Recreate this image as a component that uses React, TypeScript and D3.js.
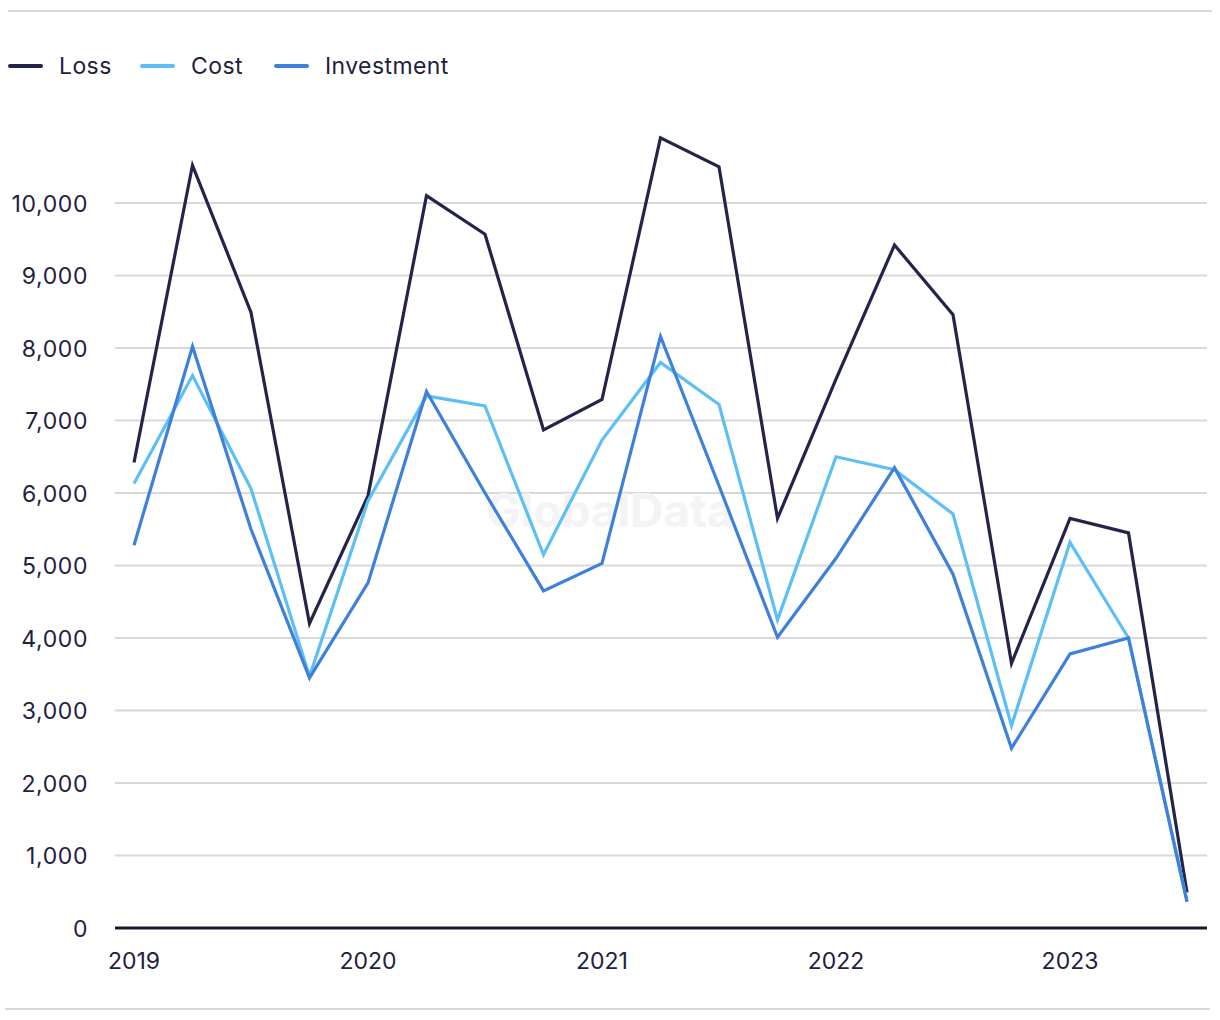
import React from "react";
import * as d3 from "d3";

const periods = [
  "2019Q1","2019Q2","2019Q3","2019Q4",
  "2020Q1","2020Q2","2020Q3","2020Q4",
  "2021Q1","2021Q2","2021Q3","2021Q4",
  "2022Q1","2022Q2","2022Q3","2022Q4",
  "2023Q1","2023Q2","2023Q3",
];
const loss = [6420, 10520, 8490, 4200, 5960, 10100, 9570, 6870, 7290, 10900, 10500, 5650, 7570, 9420, 8460, 3650, 5650, 5450, 490];
const cost = [6130, 7620, 6060, 3470, 5890, 7340, 7200, 5150, 6730, 7800, 7220, 4250, 6500, 6320, 5710, 2790, 5320, 4000, 370];
const investment = [5280, 8020, 5500, 3450, 4760, 7400, 6000, 4650, 5030, 8160, 6100, 4010, 5100, 6350, 4880, 2480, 3780, 4000, 360];
const yTicks = [0, 1000, 2000, 3000, 4000, 5000, 6000, 7000, 8000, 9000, 10000];
const xLabels = ["2019Q1", "2020Q1", "2021Q1", "2022Q1", "2023Q1"];

const seriesDefs = [
  { name: "Loss", values: loss, color: "#23244a" },
  { name: "Cost", values: cost, color: "#5cc0f7" },
  { name: "Investment", values: investment, color: "#3e80da" },
];

const FONT = "Inter, 'Noto Sans', sans-serif";
const TEXT = "#1f2140";

export default function App() {
  const W = 1220, H = 1020;
  const x = d3.scalePoint<string>().domain(periods).range([134, 1187]);
  const y = d3.scaleLinear().domain([0, 10000]).range([928, 203]);
  const line = d3.line<number>().x((_, i) => x(periods[i])!).y((d) => y(d));
  const legendX = [10, 142, 276];

  return (
    <svg width={W} height={H} style={{ position: "absolute", left: 0, top: 0 }}>
      <rect width={W} height={H} fill="#fff" />
      <line x1={8} x2={1212} y1={11} y2={11} stroke="#d9d9d9" strokeWidth={2} />
      <line x1={5} x2={1210} y1={1009} y2={1009} stroke="#d9d9d9" strokeWidth={2} />

      {seriesDefs.map((s, i) => (
        <g key={s.name}>
          <line x1={legendX[i]} x2={legendX[i] + 31} y1={66} y2={66} stroke={s.color} strokeWidth={4} strokeLinecap="round" />
          <text x={legendX[i] + 49} y={74} fontFamily={FONT} fontSize={23} letterSpacing={0.4} fill={TEXT}>{s.name}</text>
        </g>
      ))}

      {yTicks.filter((t) => t > 0).map((t) => (
        <line key={t} x1={115} x2={1207} y1={y(t)} y2={y(t)} stroke="#d9d9d9" strokeWidth={2} />
      ))}
      {yTicks.map((t) => (
        <text key={t} x={88} y={y(t) + 8.5} textAnchor="end" fontFamily={FONT} fontSize={23} letterSpacing={0.6} fill={TEXT}>
          {d3.format(",")(t)}
        </text>
      ))}

      <text x={610} y={527} textAnchor="middle" fontFamily={FONT} fontWeight={700} fontSize={46} fill="#f4f4f6">GlobalData</text>

      {seriesDefs.map((s) => (
        <path key={s.name} d={line(s.values)!} fill="none" stroke={s.color} strokeWidth={3.2} strokeLinejoin="miter" />
      ))}

      <line x1={115} x2={1207} y1={y(0)} y2={y(0)} stroke="#151a2e" strokeWidth={3} />
      {xLabels.map((p) => (
        <text key={p} x={x(p)} y={969} textAnchor="middle" fontFamily={FONT} fontSize={23} fill={TEXT}>
          {p.slice(0, 4)}
        </text>
      ))}
    </svg>
  );
}
